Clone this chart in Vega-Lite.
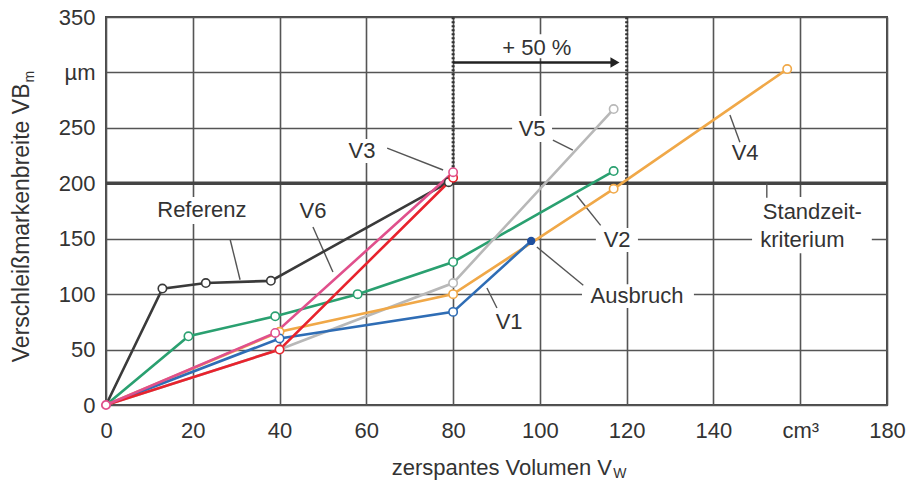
{
  "$schema": "https://vega.github.io/schema/vega-lite/v6.json",
  "width": 781,
  "height": 388,
  "autosize": {"type": "none"},
  "padding": {"left": 106, "top": 17, "right": 27, "bottom": 79},
  "background": "white",
  "config": {
    "font": "Liberation Sans",
    "view": {"stroke": "#4a4a4a", "strokeWidth": 2},
    "axis": {"domain": false, "ticks": false, "gridColor": "#555", "gridWidth": 1.6, "gridOpacity": 1, "labelFont": "Liberation Sans", "labelFontSize": 22, "labelColor": "#333", "labelFlush": false, "labelOverlap": false}
  },
  "datasets": {
    "series": [
      {"s": "Referenz", "x": 0, "y": 0}, {"s": "Referenz", "x": 13, "y": 105}, {"s": "Referenz", "x": 23, "y": 110}, {"s": "Referenz", "x": 38, "y": 112}, {"s": "Referenz", "x": 79, "y": 201},
      {"s": "V2", "x": 0, "y": 0}, {"s": "V2", "x": 19, "y": 62}, {"s": "V2", "x": 39, "y": 80}, {"s": "V2", "x": 58, "y": 100}, {"s": "V2", "x": 80, "y": 129}, {"s": "V2", "x": 117, "y": 211},
      {"s": "V5", "x": 0, "y": 0}, {"s": "V5", "x": 40, "y": 50}, {"s": "V5", "x": 80, "y": 110}, {"s": "V5", "x": 117, "y": 267},
      {"s": "V4", "x": 0, "y": 0}, {"s": "V4", "x": 40, "y": 66}, {"s": "V4", "x": 80, "y": 100}, {"s": "V4", "x": 117, "y": 195}, {"s": "V4", "x": 157, "y": 303},
      {"s": "V1", "x": 0, "y": 0}, {"s": "V1", "x": 40, "y": 60}, {"s": "V1", "x": 80, "y": 84}, {"s": "V1", "x": 98, "y": 148, "event": "Ausbruch"},
      {"s": "V3", "x": 0, "y": 0}, {"s": "V3", "x": 40, "y": 50}, {"s": "V3", "x": 80, "y": 205},
      {"s": "V6", "x": 0, "y": 0}, {"s": "V6", "x": 39, "y": 65}, {"s": "V6", "x": 80, "y": 210}
    ],
    "labels": [
      {"t": "Referenz", "x": 22.1, "y": 175.8},
      {"t": "V6", "x": 47.7, "y": 175},
      {"t": "V3", "x": 59, "y": 229},
      {"t": "V5", "x": 98.2, "y": 249},
      {"t": "V4", "x": 147.3, "y": 227},
      {"t": "Standzeit-", "x": 162.8, "y": 174},
      {"t": "kriterium", "x": 160.5, "y": 148.8},
      {"t": "V2", "x": 117.8, "y": 148.8},
      {"t": "Ausbruch", "x": 122.4, "y": 98.3},
      {"t": "V1", "x": 92.9, "y": 74.8},
      {"t": "+ 50 %", "x": 99.3, "y": 322}
    ],
    "boxes": [
      {"x1": 10.1, "x2": 34.1, "y1": 163.2, "y2": 187.6},
      {"x1": 54.6, "x2": 63.4, "y1": 218.2, "y2": 239.9},
      {"x1": 89.7, "x2": 108.8, "y1": 312.9, "y2": 334.5},
      {"x1": 93.6, "x2": 102.8, "y1": 237.2, "y2": 260.6},
      {"x1": 112.9, "x2": 122.6, "y1": 138, "y2": 159.6},
      {"x1": 109.7, "x2": 135.5, "y1": 87.5, "y2": 109},
      {"x1": 148.9, "x2": 176.5, "y1": 137, "y2": 187.6}
    ],
    "leaders": [
      {"x": 28.6, "y": 149.5, "x2": 30.9, "y2": 113},
      {"x": 47.7, "y": 160.5, "x2": 52.3, "y2": 120},
      {"x": 64.8, "y": 231.7, "x2": 77.7, "y2": 212},
      {"x": 103, "y": 239, "x2": 107.6, "y2": 230},
      {"x": 143.8, "y": 261.5, "x2": 146.1, "y2": 237},
      {"x": 108.5, "y": 189, "x2": 114, "y2": 162},
      {"x": 87.8, "y": 105.5, "x2": 90.1, "y2": 87.5},
      {"x": 99.3, "y": 142.5, "x2": 110, "y2": 108},
      {"x": 152.3, "y": 200, "x2": 152.3, "y2": 187}
    ]
  },
  "encoding": {
    "x": {"field": "x", "type": "quantitative", "scale": {"domain": [0, 180], "nice": false, "zero": false},
      "axis": {"values": [0, 20, 40, 60, 80, 100, 120, 140, 160, 180], "title": null, "labelPadding": 15, "labelExpr": "datum.value == 160 ? 'cm³' : datum.label"}},
    "y": {"field": "y", "type": "quantitative", "scale": {"domain": [0, 350], "nice": false, "zero": false},
      "axis": {"values": [0, 50, 100, 150, 200, 250, 300, 350], "title": null, "labelPadding": 11, "labelExpr": "datum.value == 300 ? 'µm' : datum.label"}}
  },
  "layer": [
    {
      "data": {"values": [{"x": 0, "y": 200}, {"x": 180, "y": 200}]},
      "mark": {"type": "line", "color": "#444", "strokeWidth": 3.5},
      "encoding": {}
    },
    {
      "data": {"values": [{"x": 80, "y": 200, "y2": 350}, {"x": 120, "y": 200, "y2": 350}]},
      "mark": {"type": "rule", "color": "#333", "strokeWidth": 3, "strokeDash": [2, 2]},
      "encoding": {"y2": {"field": "y2"}}
    },
    {
      "data": {"name": "boxes"},
      "mark": {"type": "rect", "fill": "white"},
      "encoding": {"x": {"field": "x1", "type": "quantitative"}, "x2": {"field": "x2"}, "y": {"field": "y1", "type": "quantitative"}, "y2": {"field": "y2"}}
    },
    {
      "data": {"values": [{"x": 80, "xe": 117.3, "y": 309}]},
      "mark": {"type": "rule", "color": "#222", "strokeWidth": 2.5},
      "encoding": {"x2": {"field": "xe"}}
    },
    {
      "data": {"values": [{"x": 80, "xe": 117.3, "y": 309}]},
      "mark": {"type": "point", "shape": "triangle-right", "filled": true, "color": "#222", "size": 110, "opacity": 1},
      "encoding": {"x": {"field": "xe", "type": "quantitative"}}
    },
    {
      "data": {"name": "leaders"},
      "mark": {"type": "rule", "color": "#555", "strokeWidth": 1.4},
      "encoding": {"x2": {"field": "x2"}, "y2": {"field": "y2"}}
    },
    {
      "data": {"name": "series"},
      "mark": {"type": "line", "strokeWidth": 2.6},
      "encoding": {
        "color": {"field": "s", "type": "nominal", "legend": null,
          "scale": {"domain": ["Referenz", "V1", "V2", "V3", "V4", "V5", "V6"], "range": ["#3a3a3a", "#2f6db5", "#2aa070", "#e8232d", "#f0a848", "#b8b8b8", "#e0508c"]}},
        "order": {"field": "x"}
      }
    },
    {
      "data": {"name": "series"},
      "transform": [{"filter": "datum.event != 'Ausbruch' && datum.x > 0"}],
      "mark": {"type": "point", "filled": false, "fill": "white", "fillOpacity": 1, "size": 70, "strokeWidth": 1.6, "opacity": 1},
      "encoding": {
        "stroke": {"field": "s", "type": "nominal", "legend": null,
          "scale": {"domain": ["Referenz", "V1", "V2", "V3", "V4", "V5", "V6"], "range": ["#3a3a3a", "#2f6db5", "#2aa070", "#e8232d", "#f0a848", "#b8b8b8", "#e0508c"]}}
      }
    },
    {
      "data": {"values": [{"x": 0, "y": 0}]},
      "mark": {"type": "point", "filled": false, "fill": "white", "fillOpacity": 1, "size": 70, "strokeWidth": 1.8, "stroke": "#e0508c", "opacity": 1},
      "encoding": {}
    },
    {
      "data": {"name": "series"},
      "transform": [{"filter": "datum.event == 'Ausbruch'"}],
      "mark": {"type": "point", "filled": true, "color": "#1f4f9e", "size": 70, "opacity": 1},
      "encoding": {}
    },
    {
      "data": {"name": "labels"},
      "mark": {"type": "text", "font": "Liberation Sans", "fontSize": 22, "color": "#333", "align": "center", "baseline": "middle"},
      "encoding": {"text": {"field": "t"}}
    },
    {
      "data": {"values": [{"t": "zerspantes Volumen V", "x": 116.6, "y": -56.8}]},
      "mark": {"type": "text", "font": "Liberation Sans", "fontSize": 22, "color": "#333", "align": "right", "baseline": "middle"},
      "encoding": {"text": {"field": "t"}}
    },
    {
      "data": {"values": [{"t": "W", "x": 116.9, "y": -62}]},
      "mark": {"type": "text", "font": "Liberation Sans", "fontSize": 14, "color": "#333", "align": "left", "baseline": "middle"},
      "encoding": {"text": {"field": "t"}}
    },
    {
      "data": {"values": [{"t": "Verschleißmarkenbreite VB", "x": -19.4, "y": 290}]},
      "mark": {"type": "text", "font": "Liberation Sans", "fontSize": 23, "color": "#333", "align": "right", "baseline": "middle", "angle": 270},
      "encoding": {"text": {"field": "t"}}
    },
    {
      "data": {"values": [{"t": "m", "x": -17.6, "y": 291}]},
      "mark": {"type": "text", "font": "Liberation Sans", "fontSize": 14, "color": "#333", "align": "left", "baseline": "middle", "angle": 270},
      "encoding": {"text": {"field": "t"}}
    }
  ]
}
